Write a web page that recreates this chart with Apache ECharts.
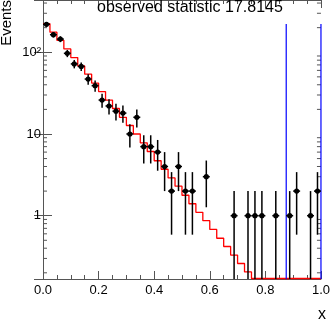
<!DOCTYPE html>
<html>
<head>
<meta charset="utf-8">
<script src="https://cdn.jsdelivr.net/npm/echarts@6/dist/echarts.min.js"></script>
<style>
  html, body { margin: 0; padding: 0; background: #fff; }
  #chart { width: 333px; height: 321px; }
</style>
</head>
<body>
<div id="chart"></div>
<script>
// 40 bins of width 0.025 on [0, 1]
const binCenters = [
  0.0125, 0.0375, 0.0625, 0.0875, 0.1125, 0.1375, 0.1625, 0.1875, 0.2125, 0.2375,
  0.2625, 0.2875, 0.3125, 0.3375, 0.3625, 0.3875, 0.4125, 0.4375, 0.4625, 0.4875,
  0.5125, 0.5375, 0.5625, 0.5875, 0.6125, 0.6375, 0.6625, 0.6875, 0.7125, 0.7375,
  0.7625, 0.7875, 0.8125, 0.8375, 0.8625, 0.8875, 0.9125, 0.9375, 0.9625, 0.9875
];
const binWidth = 0.025;

// observed events per bin (black points, sqrt(n) errors)
const observed = [
  220, 164, 145, 97, 72, 67, 47, 39, 26, 22,
  19, 18, 10, 16, 7, 7, 6, 4, 2, 4,
  2, 2, 0, 3, 0, 0, 0, 1, 0, 1,
  1, 1, 0, 1, 0, 1, 2, 0, 1, 2
];

// expected (red histogram)
const expected = [
  224, 176, 140, 110, 86, 68, 54, 42, 33, 26,
  20.5, 16, 12.7, 10, 7.8, 6.1, 4.7, 3.7, 2.9, 2.3,
  1.78, 1.4, 1.1, 0.87, 0.68, 0.53, 0.42, 0.33, 0.26, 0.205,
  0.16, 0.127, 0.1, 0.079, 0.062, 0.049, 0.038, 0.03, 0.024, 0.019
];

// blue vertical lines
const statLines = [0.875, 1.0];
const statLineTop = 222;

const yMin = 0.168;
const yMax = 436;
const yFloor = 0.1705; // bins below the frame are drawn along its bottom edge
const yMinorTicks = [
  0.2, 0.3, 0.4, 0.5, 0.6, 0.7, 0.8, 0.9,
  2, 3, 4, 5, 6, 7, 8, 9,
  20, 30, 40, 50, 60, 70, 80, 90,
  200, 300, 400
];

const font = 'Liberation Sans';
const axisColor = '#555';

const chart = echarts.init(document.getElementById('chart'));

// histogram outline: one point at each lower bin edge, plus the upper edge
const stepData = binCenters.map((c, i) => [c - binWidth / 2, Math.max(expected[i], yFloor)]);
stepData.push([binCenters[binCenters.length - 1] + binWidth / 2, Math.max(expected[expected.length - 1], yFloor)]);

const pointData = binCenters
  .map((c, i) => [c, observed[i]])
  .filter(d => d[1] > 0);

const xAxisBase = {
  type: 'value',
  min: 0,
  max: 1,
  interval: 0.2,
  z: 0,
  splitLine: { show: false },
  axisLine: { lineStyle: { color: axisColor, width: 1 } },
  axisTick: { inside: true, length: 8, lineStyle: { color: axisColor } },
  minorTick: { show: true, splitNumber: 4, length: 4, lineStyle: { color: axisColor } }
};

const yAxisBase = {
  type: 'log',
  logBase: 10,
  min: yMin,
  max: yMax,
  z: 0,
  splitLine: { show: false },
  axisLine: { lineStyle: { color: axisColor, width: 1 } },
  axisTick: { inside: true, length: 9, lineStyle: { color: axisColor } }
};

chart.setOption({
  animation: false,
  backgroundColor: '#fff',
  title: {
    text: 'observed statistic 17.8145',
    left: 97,
    top: 0,
    padding: 0,
    textStyle: { fontFamily: font, fontSize: 16, fontWeight: 'normal', color: '#000' }
  },
  grid: { left: 43, right: 7, top: 0, bottom: 42 },
  xAxis: [
    Object.assign({}, xAxisBase, {
      position: 'bottom',
      axisLabel: {
        fontFamily: font, fontSize: 13, color: '#000', margin: 5,
        formatter: v => v.toFixed(1)
      }
    }),
    Object.assign({}, xAxisBase, { position: 'top', axisLabel: { show: false } })
  ],
  yAxis: [
    Object.assign({}, yAxisBase, {
      position: 'left',
      axisLabel: {
        fontFamily: font, fontSize: 13, color: '#000', margin: 2,
        showMinLabel: false, showMaxLabel: false,
        formatter: v => {
          const e = Math.round(Math.log10(v));
          if (Math.abs(Math.log10(v) - e) > 1e-6) return '';
          if (e === 0) return '1';
          if (e === 1) return '10';
          return '10\u00b2';
        }
      }
    }),
    Object.assign({}, yAxisBase, { position: 'right', axisLabel: { show: false } })
  ],
  graphic: [
    {
      type: 'text',
      x: 7,
      y: 0,
      rotation: Math.PI / 2,
      style: {
        text: 'Events', fontFamily: font, fontSize: 15, fill: '#000',
        align: 'right', verticalAlign: 'middle'
      }
    },
    {
      type: 'text',
      x: 326,
      y: 315,
      style: {
        text: 'x', fontFamily: font, fontSize: 16, fill: '#000',
        align: 'right', verticalAlign: 'middle'
      }
    }
  ],
  series: [
    {
      // minor ticks for the log axes (2..9 per decade), both sides
      type: 'custom',
      silent: true,
      data: yMinorTicks.map(v => [0, v]),
      renderItem: (params, api) => {
        const cs = params.coordSys;
        const y = api.coord([0, api.value(1)])[1];
        const st = { stroke: axisColor, lineWidth: 1 };
        return {
          type: 'group',
          children: [
            { type: 'line', shape: { x1: cs.x, y1: y, x2: cs.x + 4, y2: y }, style: st },
            { type: 'line', shape: { x1: cs.x + cs.width - 4, y1: y, x2: cs.x + cs.width, y2: y }, style: st }
          ]
        };
      },
      z: 1
    },
    {
      type: 'line',
      step: 'end',
      data: stepData,
      symbol: 'none',
      clip: false,
      lineStyle: { color: '#ff0000', width: 1.3 },
      z: 5
    },
    ...statLines.map(x => ({
      type: 'line',
      data: [[x, yMin], [x, statLineTop]],
      symbol: 'none',
      clip: false,
      lineStyle: { color: '#0000ff', width: 1.2 },
      z: 6
    })),
    {
      type: 'custom',
      data: pointData,
      renderItem: (params, api) => {
        const x = api.value(0);
        const n = api.value(1);
        const err = Math.sqrt(n);
        const c = api.coord([x, n]);
        const top = api.coord([x, n + err]);
        const bot = api.coord([x, Math.max(n - err, yMin)]);
        const l = api.coord([x - binWidth / 2, n]);
        const r = api.coord([x + binWidth / 2, n]);
        const st = { stroke: '#000', lineWidth: 1.5 };
        return {
          type: 'group',
          children: [
            { type: 'line', shape: { x1: c[0], y1: top[1], x2: c[0], y2: bot[1] }, style: st },
            { type: 'line', shape: { x1: l[0], y1: c[1], x2: r[0], y2: c[1] }, style: st },
            { type: 'circle', shape: { cx: c[0], cy: c[1], r: 2.6 }, style: { fill: '#000' } }
          ]
        };
      },
      z: 7
    }
  ]
});
</script>
</body>
</html>
